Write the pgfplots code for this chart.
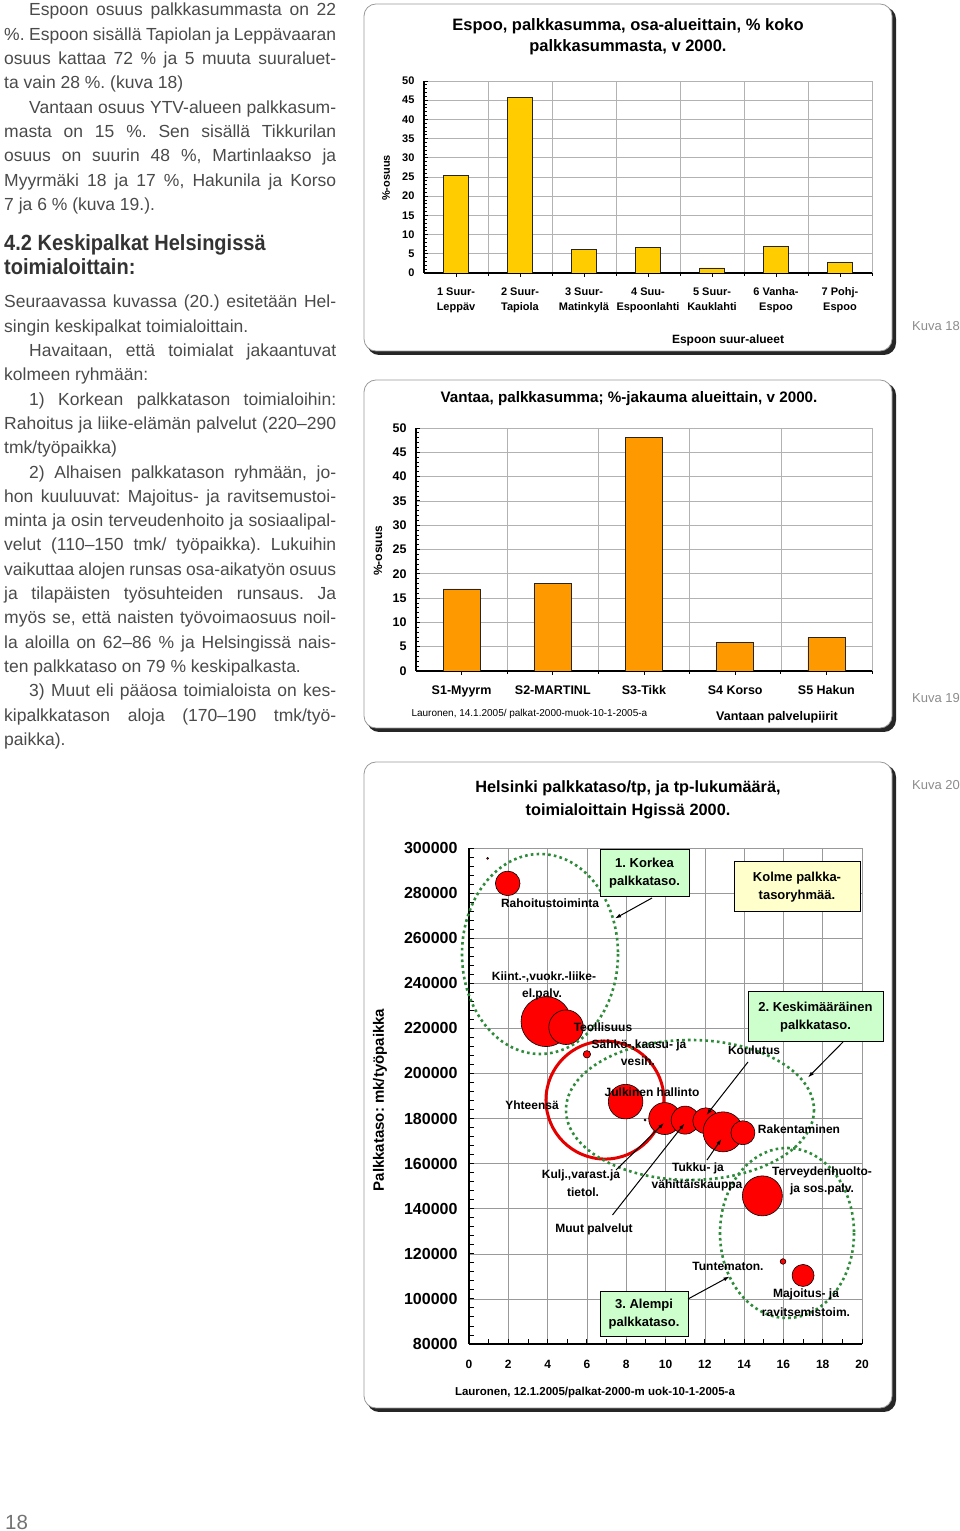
\documentclass[border=0pt]{standalone}
\usepackage{fontspec}
\setmainfont{Liberation Sans}
\newfontfamily\headfont[FakeStretch=0.91]{Liberation Sans}
\usepackage{graphicx}
\usepackage{pgfplots}
\pgfplotsset{compat=1.18}
\usetikzlibrary{arrows.meta}
\definecolor{baryellow}{HTML}{FFCC00}
\definecolor{barorange}{HTML}{FF9900}
\definecolor{dotgreen}{HTML}{2E8B3A}
\definecolor{boxgreen}{HTML}{CCFFCC}
\definecolor{boxyellow}{HTML}{FFFFCC}
\definecolor{bodytext}{HTML}{4A4A4A}
\newcommand\fsz[2]{\fontsize{#1}{#2}\selectfont}
\newcommand\J[1]{\hbox to 332pt{\frenchspacing\spaceskip=0.278em plus 1em minus 0.2em #1}}
\newcommand\JI[1]{\hbox to 307pt{\frenchspacing\spaceskip=0.278em plus 1em minus 0.2em #1}}
\pgfplotsset{bub/.style={only marks, mark=*, mark size=#1, mark options={fill=red, draw=black, line width=0.6pt}}}
\begin{document}
\frenchspacing
\begin{tikzpicture}
\tikzset{px/.style={x=1pt,y=-1pt,yshift=1531pt}}
\useasboundingbox (0,0) rectangle (960pt,1531pt);
\begin{scope}[px]
% panels
\foreach \ya/\yb in {4/351, 380/728, 762/1408} {
 \fill[black!85, rounded corners=12pt] (367,{\ya+3}) rectangle (896,{\yb+4});
 \draw[fill=white, draw=black!40, line width=0.8pt, rounded corners=12pt] (364,\ya) rectangle (892,\yb);
}
% left column text
\begin{scope}[every node/.style={anchor=base west, inner sep=0pt, font=\fsz{17.5}{24}\frenchspacing\color{bodytext}}]
\node at (29,16) {\JI{Espoon osuus palkkasummasta on 22}};
\node at (4,40.3) {\J{\%. Espoon sisällä Tapiolan ja Leppävaaran}};
\node at (4,64.6) {\J{osuus kattaa 72 \% ja 5 muuta suuraluet-}};
\node at (4,88.9) {ta vain 28 \%. (kuva 18)};
\node at (29,113.2) {\JI{Vantaan osuus YTV-alueen palkkasum-}};
\node at (4,137.5) {\J{masta on 15 \%. Sen sisällä Tikkurilan}};
\node at (4,161.8) {\J{osuus on suurin 48 \%, Martinlaakso ja}};
\node at (4,186.1) {\J{Myyrmäki 18 ja 17 \%, Hakunila ja Korso}};
\node at (4,210.4) {7 ja 6 \% (kuva 19.).};
\node[font=\headfont\bfseries\fsz{22}{24}\color{black!80}] at (4,251) {4.2 Keskipalkat Helsingissä};
\node[font=\headfont\bfseries\fsz{22}{24}\color{black!80}] at (4,275) {toimialoittain:};
\node at (4,308) {\J{Seuraavassa kuvassa (20.) esitetään Hel-}};
\node at (4,332.3) {singin keskipalkat toimialoittain.};
\node at (29,356.6) {\JI{Havaitaan, että toimialat jakaantuvat}};
\node at (4,380.9) {kolmeen ryhmään:};
\node at (29,405.2) {\JI{1) Korkean palkkatason toimialoihin:}};
\node at (4,429.5) {\J{Rahoitus ja liike-elämän palvelut (220–290}};
\node at (4,453.8) {tmk/työpaikka)};
\node at (29,478.1) {\JI{2) Alhaisen palkkatason ryhmään, jo-}};
\node at (4,502.4) {\J{hon kuuluuvat: Majoitus- ja ravitsemustoi-}};
\node at (4,526.7) {\J{minta ja osin terveudenhoito ja sosiaalipal-}};
\node at (4,551) {\J{velut (110–150 tmk/ työpaikka). Lukuihin}};
\node at (4,575.3) {\J{vaikuttaa alojen runsas osa-aikatyön osuus}};
\node at (4,599.6) {\J{ja tilapäisten työsuhteiden runsaus. Ja}};
\node at (4,623.9) {\J{myös se, että naisten työvoimaosuus noil-}};
\node at (4,648.2) {\J{la aloilla on 62–86 \% ja Helsingissä nais-}};
\node at (4,672.5) {ten palkkataso on 79 \% keskipalkasta.};
\node at (29,696.8) {\JI{3) Muut eli pääosa toimialoista on kes-}};
\node at (4,721.1) {\J{kipalkkatason aloja (170–190 tmk/työ-}};
\node at (4,745.4) {paikka).};
\end{scope}
% Kuva labels and page number
\node[anchor=west, inner sep=0pt, font=\fsz{13}{14}\color{black!45}] at (912,326) {Kuva 18};
\node[anchor=west, inner sep=0pt, font=\fsz{13}{14}\color{black!45}] at (912,698) {Kuva 19};
\node[anchor=west, inner sep=0pt, font=\fsz{13}{14}\color{black!45}] at (912,785) {Kuva 20};
\node[anchor=west, inner sep=0pt, font=\fsz{20.5}{22}\color{black!55}] at (5,1522) {18};
% panel 1 texts
\node[align=center, font=\bfseries\fsz{16.5}{21}] at (628,37) {Espoo, palkkasumma, osa-alueittain, \% koko\\palkkasummasta, v 2000.};
\node[rotate=90, font=\bfseries\fsz{11}{12}] at (386,178) {\%-osuus};
\node[font=\bfseries\fsz{12}{14}] at (728,340) {Espoon suur-alueet};
% panel 2 texts
\node[font=\bfseries\fsz{15.2}{17}] at (629,399) {Vantaa, palkkasumma; \%-jakauma alueittain, v 2000.};
\node[rotate=90, font=\bfseries\fsz{12}{13}] at (378,551) {\%-osuus};
\node[anchor=west, font=\fsz{10}{11}] at (408,714) {Lauronen, 14.1.2005/ palkat-2000-muok-10-1-2005-a};
\node[font=\bfseries\fsz{12.5}{14}] at (777,717) {Vantaan palvelupiirit};
% panel 3 texts
\node[align=center, font=\bfseries\fsz{16.3}{23}] at (628,799.5) {Helsinki palkkataso/tp, ja tp-lukumäärä,\\toimialoittain Hgissä 2000.};
\node[rotate=90, font=\bfseries\fsz{15}{16}] at (380,1100) {Palkkataso: mk/työpaikka};
\node[font=\bfseries\fsz{11.5}{13}] at (595,1393) {Lauronen, 12.1.2005/palkat-2000-m uok-10-1-2005-a};
\end{scope}

% ---------- Chart 1: Espoo ----------
\begin{axis}[
 at={(424pt,1258pt)}, anchor=south west, scale only axis,
 width=448pt, height=192pt,
 xmin=0.5, xmax=7.5, ymin=0, ymax=50,
 ybar, bar width=25pt,
 axis x line*=bottom, axis y line*=left,
 axis line style={black, line width=1.6pt},
 xtick={1,...,7},
 xticklabels={{1 Suur-\\Leppäv},{2 Suur-\\Tapiola},{3 Suur-\\Matinkylä},{4 Suu-\\Espoonlahti},{5 Suur-\\Kauklahti},{6 Vanha-\\Espoo},{7 Pohj-\\Espoo}},
 minor xtick={1.5,2.5,3.5,4.5,5.5,6.5,7.5},
 ytick={0,5,...,50}, minor y tick num=4,
 ymajorgrids=true, xminorgrids=true, xmajorgrids=false,
 grid style={black!30, line width=0.6pt},
 minor grid style={black!30, line width=0.6pt},
 tick style={black, line width=0.8pt},
 major tick length=4pt, minor tick length=3pt,
 /pgf/number format/assume math mode=true,
 yticklabel style={font=\bfseries\fsz{11}{11}, xshift=-6pt},
 xticklabel style={font=\bfseries\fsz{11}{15}, align=center, yshift=-7pt},
]
\addplot[fill=baryellow, draw=black!85, line width=0.7pt] coordinates {(1,25.3) (2,45.8) (3,6.1) (4,6.7) (5,1.3) (6,7.0) (7,2.8)};
\end{axis}

% ---------- Chart 2: Vantaa ----------
\begin{axis}[
 at={(416pt,860pt)}, anchor=south west, scale only axis,
 width=456pt, height=243pt,
 xmin=0.5, xmax=5.5, ymin=0, ymax=50,
 ybar, bar width=37pt,
 axis x line*=bottom, axis y line*=left,
 axis line style={black, line width=1.6pt},
 xtick={1,...,5},
 xticklabels={S1-Myyrm,S2-MARTINL,S3-Tikk,S4 Korso,S5 Hakun},
 minor xtick={1.5,2.5,3.5,4.5,5.5},
 ytick={0,5,...,50}, minor y tick num=4,
 ymajorgrids=true, xminorgrids=true, xmajorgrids=false,
 grid style={black!30, line width=0.6pt},
 minor grid style={black!30, line width=0.6pt},
 tick style={black, line width=0.8pt},
 major tick length=4pt, minor tick length=3pt,
 /pgf/number format/assume math mode=true,
 yticklabel style={font=\bfseries\fsz{12.5}{13}, xshift=-6pt},
 xticklabel style={font=\bfseries\fsz{12.5}{14}, yshift=-7pt},
]
\addplot[fill=barorange, draw=black!85, line width=0.7pt] coordinates {(1,16.9) (2,18.0) (3,48.1) (4,5.9) (5,6.9)};
\end{axis}

% ---------- Chart 3: Helsinki bubbles ----------
\begin{axis}[
 at={(469pt,187pt)}, anchor=south west, scale only axis,
 width=393pt, height=496pt,
 xmin=0, xmax=20, ymin=80000, ymax=300000,
 axis x line*=bottom, axis y line*=left,
 axis line style={black, line width=1.8pt},
 xtick={0,2,...,20}, ytick={80000,100000,...,300000},
 minor x tick num=1, minor y tick num=4,
 grid=major, grid style={black!40, line width=0.6pt},
 tick style={black, line width=0.9pt},
 major tick length=5pt, minor tick length=5pt,
 scaled y ticks=false,
 /pgf/number format/assume math mode=true,
 yticklabel style={font=\bfseries\fsz{16}{16}, xshift=-8pt, /pgf/number format/fixed, /pgf/number format/1000 sep={}},
 xticklabel style={font=\bfseries\fsz{12}{12}, yshift=-13pt},
 clip=false,
]
% Yhteensa ring
\addplot[only marks, mark=o, mark size=59pt, mark options={draw=red!90!black, line width=3pt}] coordinates {(6.92,188200)};
\addplot[bub=1pt] coordinates {(0.95,295400)};
\addplot[bub=12.3pt] coordinates {(1.97,284300)};
\addplot[bub=25pt] coordinates {(3.92,223000)};
\addplot[bub=17.3pt] coordinates {(4.94,220500)};
\addplot[bub=3.7pt] coordinates {(6.0,208500)};
\addplot[bub=17.3pt] coordinates {(7.97,187500)};
\addplot[bub=1pt] coordinates {(8.96,179350)};
\addplot[bub=16pt] coordinates {(9.96,180000)};
\addplot[bub=14pt] coordinates {(11.0,179300)};
\addplot[bub=13pt] coordinates {(12.05,179000)};
\addplot[bub=20pt] coordinates {(12.93,174100)};
\addplot[bub=12pt] coordinates {(13.94,173700)};
\addplot[bub=20pt] coordinates {(14.93,145700)};
\addplot[bub=2.8pt] coordinates {(15.98,116600)};
\addplot[bub=11pt] coordinates {(17.0,110400)};
\end{axis}

\begin{scope}[px]
% dotted group ellipses
\begin{scope}[draw=dotgreen, line width=2.6pt, dash pattern=on 2.6pt off 3.2pt]
\draw (540,954) ellipse [x radius=78, y radius=100];
\draw (690,1110) ellipse [x radius=124, y radius=70];
\draw (787,1233) ellipse [x radius=67, y radius=85];
\end{scope}
% boxes
\draw[fill=boxgreen, line width=1pt] (600,850) rectangle (689,897);
\node[align=center, font=\bfseries\fsz{13}{18}] at (644.5,873.5) {1. Korkea\\palkkataso.};
\draw[fill=boxyellow, line width=1pt] (734,862) rectangle (860,912);
\node[align=center, font=\bfseries\fsz{13}{18}] at (797,887) {Kolme palkka-\\tasoryhmää.};
\draw[fill=boxgreen, line width=1pt] (748,992) rectangle (883,1042);
\node[align=center, font=\bfseries\fsz{13}{18}] at (815.5,1017) {2. Keskimääräinen\\palkkataso.};
\draw[fill=boxgreen, line width=1pt] (600,1292) rectangle (688,1337);
\node[align=center, font=\bfseries\fsz{13}{18}] at (644,1314.5) {3. Alempi\\palkkataso.};
% arrows
\begin{scope}[-{Latex[length=6pt,width=4pt]}, line width=1pt]
\draw (652,898) -- (615,918.5);
\draw (843,1042) -- (808,1077.5);
\draw (688,1299) -- (729.5,1276.5);
\draw (748,1062) -- (706.5,1115);
\draw (616,1170) -- (664,1123);
\draw (612.5,1215) -- (684.5,1123.5);
\draw (707,1160) -- (721.5,1139);
\end{scope}
% labels
\begin{scope}[every node/.style={font=\bfseries\fsz{12}{13}, inner sep=0pt}]
\node at (550,903) {Rahoitustoiminta};
\node at (544,977) {Kiint.-,vuokr.-liike-};
\node at (542,994) {el.palv.};
\node at (603,1027) {Teollisuus};
\node at (639,1045) {Sähkö-,kaasu- ja};
\node at (638,1061.5) {vesih.};
\node at (754,1050) {Koulutus};
\node at (652,1092) {Julkinen hallinto};
\node at (532,1105) {Yhteensä};
\node at (799,1129) {Rakentaminen};
\node at (581,1175) {Kulj.,varast.ja};
\node at (583,1192) {tietol.};
\node at (698,1168) {Tukku- ja};
\node at (697,1185) {vähittäiskauppa};
\node at (822,1172) {Terveydenhuolto-};
\node at (822,1189) {ja sos.palv.};
\node at (594,1229) {Muut palvelut};
\node at (728,1266) {Tuntematon.};
\node at (806,1294.5) {Majoitus- ja};
\node at (806,1312) {ravitsemistoim.};
\end{scope}
\end{scope}
\end{tikzpicture}
\end{document}
